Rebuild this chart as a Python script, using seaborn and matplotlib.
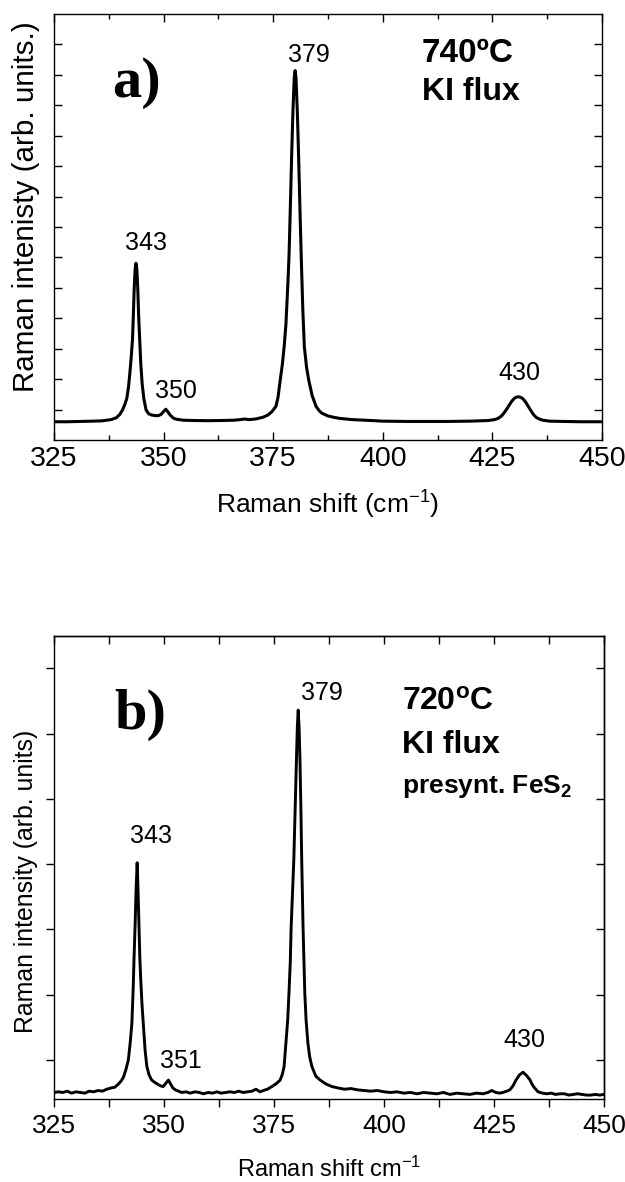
import matplotlib
matplotlib.use("Agg")
import matplotlib.pyplot as plt
from matplotlib.ticker import MultipleLocator
import seaborn as sns
import pandas as pd

# ---- spectrum (a): 740 C, KI flux ----
shift_a = [325, 328, 331, 334, 336, 338, 339.2, 340.0, 340.6, 341.1, 341.6,
           342.0, 342.3, 342.6, 342.9, 343.1, 343.3, 343.5, 343.7, 343.9, 344.1,
           344.3, 344.55, 344.8, 345.1, 345.5, 346.0, 346.6, 347.3, 348.2, 348.8,
           349.4, 349.9, 350.5, 351.0, 351.5, 352.2, 353.0, 354.5, 357, 360, 363,
           366, 367.5, 368.5, 369.5, 371, 372.7, 373.8, 374.7, 375.6, 376.1,
           376.6, 377.1, 377.5, 377.9, 378.3, 378.6, 378.9, 379.2, 379.5, 379.8,
           380.0, 380.2, 380.5, 380.8, 381.1, 381.4, 381.75, 382.1, 382.6, 383.1,
           383.9, 384.8, 385.5, 386.1, 387.5, 389, 390.2, 393, 396, 400, 405, 410,
           415, 420, 424, 425.5, 426.3, 427.0, 427.6, 428.2, 428.8, 429.4, 430.0,
           430.5, 431.0, 431.5, 432.0, 432.6, 433.2, 433.8, 434.4, 435.0, 435.7,
           436.5, 438, 441, 445, 450]
inten_a = [0.60, 0.60, 0.61, 0.62, 0.63, 0.67, 0.73, 0.84, 0.98, 1.15, 1.36,
           1.75, 2.19, 2.70, 3.29, 4.10, 5.00, 5.60, 5.81, 5.60, 5.00,
           4.10, 3.29, 2.50, 1.86, 1.35, 0.99, 0.86, 0.82, 0.80, 0.80,
           0.84, 0.92, 1.01, 0.92, 0.82, 0.72, 0.68, 0.65, 0.64, 0.635, 0.64,
           0.65, 0.67, 0.69, 0.67, 0.69, 0.75, 0.82, 0.93, 1.10, 1.40,
           1.97, 2.50, 3.07, 3.80, 5.00, 6.00, 7.60, 9.30, 10.80, 11.90,
           12.14, 11.90, 10.80, 9.30, 7.60, 6.00, 4.30, 3.07, 2.40, 1.97,
           1.45, 1.10, 0.96, 0.88, 0.79, 0.74, 0.71, 0.67, 0.65, 0.62, 0.61, 0.61,
           0.61, 0.62, 0.64, 0.67, 0.71, 0.78, 0.88, 1.00, 1.14, 1.27, 1.37,
           1.41, 1.42, 1.40, 1.35, 1.24, 1.10, 0.96, 0.83, 0.74, 0.69,
           0.65, 0.62, 0.61, 0.60, 0.60]

# ---- spectrum (b): 720 C, KI flux, presynthesized FeS2 ----
shift_b = [325, 326, 327, 328, 329, 330, 331, 332, 333, 334, 335, 336, 337,
           338, 338.8, 339.5, 340.2, 340.75, 341.3, 341.9, 342.3, 342.7, 343.0,
           343.2, 343.45, 343.65, 343.9, 344.1, 344.3, 344.5, 344.7, 345.0, 345.3,
           345.7, 346.1, 346.6, 347.2, 348.0, 348.7, 349.3, 349.8, 350.4, 351.0,
           351.5, 352.0, 352.6, 353.3, 354, 355, 356, 357, 358, 359, 360, 361,
           362, 363, 364, 365, 366, 367, 368, 369, 370, 370.9, 371.8, 372.6,
           373.5, 374.5, 375.6, 376.4, 376.9, 377.3, 377.7, 378.1, 378.4, 378.7,
           378.9, 379.2, 379.5, 379.8, 380.1, 380.3, 380.5, 380.7, 380.9, 381.1,
           381.3, 381.6, 381.8, 382.0, 382.3, 382.7, 383.1, 383.6, 384.5, 385.5,
           386.8, 388.2, 389.5, 391, 392.5, 394, 395.5, 397, 398.5, 400, 401.5,
           403, 404.5, 406, 407.5, 409, 410.5, 412, 413.5, 415, 416.5, 418,
           419.5, 421, 422.5, 423.6, 424.5, 425.4, 426.3, 427, 427.9, 428.6,
           429.3, 430.0, 430.8, 431.6, 432.4, 433.2, 433.7, 434.1, 434.6, 435.0,
           436, 437, 438, 439, 440, 441, 442, 443, 444, 445, 446, 447, 448, 449,
           450]
inten_b = [0.50, 0.51, 0.50, 0.52, 0.49, 0.51, 0.50, 0.49, 0.52, 0.51, 0.53,
           0.52, 0.55, 0.57, 0.58, 0.62, 0.67, 0.73, 0.84, 1.00, 1.25, 1.56, 2.10,
           2.58, 3.10, 3.60, 4.02, 3.60, 3.10, 2.58, 2.25, 1.85, 1.56,
           1.15, 0.90, 0.77, 0.69, 0.65, 0.62, 0.60, 0.59, 0.64, 0.69,
           0.63, 0.57, 0.54, 0.52, 0.50, 0.51, 0.49, 0.51, 0.50, 0.48, 0.50, 0.49,
           0.51, 0.49, 0.50, 0.51, 0.50, 0.52, 0.50, 0.51, 0.52, 0.55, 0.51, 0.53,
           0.55, 0.59, 0.64, 0.69, 0.78, 0.90, 1.26, 1.60, 2.02, 2.50,
           3.04, 3.55, 4.06, 4.80, 5.60, 6.10, 6.36, 6.10, 5.60, 4.90,
           4.06, 3.04, 2.50, 2.02, 1.60, 1.26, 1.05, 0.90, 0.75, 0.69,
           0.63, 0.59, 0.57, 0.55, 0.56, 0.54, 0.53, 0.52, 0.53, 0.51, 0.50,
           0.51, 0.49, 0.50, 0.48, 0.50, 0.49, 0.48, 0.50, 0.47, 0.49, 0.48,
           0.47, 0.49, 0.48, 0.50, 0.53, 0.50, 0.49, 0.50, 0.52, 0.54,
           0.60, 0.69, 0.77, 0.81, 0.76, 0.69, 0.62, 0.58, 0.54, 0.51,
           0.49, 0.48, 0.49, 0.47, 0.48, 0.48, 0.46, 0.47, 0.48, 0.47, 0.46, 0.46,
           0.47, 0.46, 0.47]

# peak annotations: (text, x, y)
peaks_a = [("343", 346.0, 6.25), ("350", 352.8, 1.38),
           ("379", 383.2, 12.43), ("430", 431.1, 1.97)]
peaks_b = [("343", 347.0, 4.32), ("351", 353.9, 0.88),
           ("379", 385.9, 6.51), ("430", 431.9, 1.20)]

x_ticks = [325, 350, 375, 400, 425, 450]

sns.set_style("ticks")
plt.rcParams["font.family"] = ["Liberation Sans", "DejaVu Sans"]
plt.rcParams["mathtext.fontset"] = "custom"
plt.rcParams["mathtext.rm"] = "Liberation Sans"
plt.rcParams["mathtext.it"] = "Liberation Sans:italic"
plt.rcParams["mathtext.bf"] = "Liberation Sans:bold"
for key in ("text.color", "axes.labelcolor", "xtick.color", "ytick.color",
            "axes.edgecolor"):
    plt.rcParams[key] = "black"
plt.rcParams["axes.linewidth"] = 1.0

W, H = 625, 1182
fig = plt.figure(figsize=(W / 100, H / 100), dpi=100)
ax1 = fig.add_axes([54 / W, (H - 440) / H, 548 / W, 426 / H])
ax2 = fig.add_axes([54 / W, (H - 1099) / H, 550 / W, 463.3 / H])

df_a = pd.DataFrame({"shift": shift_a, "intensity": inten_a})
df_b = pd.DataFrame({"shift": shift_b, "intensity": inten_b})

sns.lineplot(data=df_a, x="shift", y="intensity", ax=ax1, color="black",
             lw=2.2, estimator=None, sort=False)
sns.lineplot(data=df_b, x="shift", y="intensity", ax=ax2, color="black",
             lw=2.1, estimator=None, sort=False)

# ---- panel (a) axes ----
ax1.set_xlim(325, 450)
ax1.set_ylim(0, 14)
ax1.set_xticks(x_ticks)
ax1.xaxis.set_minor_locator(MultipleLocator(12.5))
ax1.set_yticks(range(1, 14))
ax1.set_yticklabels([])
ax1.tick_params(axis="x", which="major", direction="in", length=6, width=1,
                top=True, bottom=True, labelsize=20.5, pad=4)
ax1.tick_params(axis="x", which="minor", direction="in", length=3.5, width=1,
                top=True, bottom=True)
ax1.tick_params(axis="y", which="major", direction="in", length=6, width=1,
                left=True, right=True)
ax1.set_xlabel("Raman shift (cm$^{-1}$)", fontsize=19)
ax1.set_ylabel("Raman intenisty (arb. units.)", fontsize=21.3)
ax1.xaxis.set_label_coords(0.5, -0.115)
ax1.yaxis.set_label_coords(-0.026, 0.549)

for t, x, y in peaks_a:
    ax1.text(x, y, t, ha="center", va="baseline", fontsize=18)
ax1.text(338.2, 11.28, "a)", fontsize=42, fontweight="bold",
         family=["Liberation Serif", "DejaVu Serif"], va="baseline")
ax1.text(408.9, 12.43, "740ºC", fontsize=24, fontweight="bold", va="baseline")
ax1.text(408.9, 11.18, "KI flux", fontsize=23, fontweight="bold", va="baseline")

# ---- panel (b) axes ----
ax2.set_xlim(325, 450)
ax2.set_ylim(0.4, 7.5)
ax2.set_xticks(x_ticks)
ax2.xaxis.set_minor_locator(MultipleLocator(12.5))
ax2.set_yticks(range(1, 8))
ax2.set_yticklabels([])
ax2.tick_params(axis="x", which="both", direction="out", length=6, width=1,
                top=False, bottom=True, labelsize=19, pad=5)
ax2.tick_params(axis="y", which="major", direction="out", length=6, width=1,
                left=True, right=False)

top2 = ax2.secondary_xaxis("top")
top2.set_xticks(x_ticks)
top2.xaxis.set_minor_locator(MultipleLocator(12.5))
top2.tick_params(axis="x", which="both", direction="in", length=5.5, width=1,
                 labeltop=False)
top2.spines["top"].set_linewidth(1.0)
right2 = ax2.secondary_yaxis("right")
right2.set_yticks(range(1, 8))
right2.tick_params(axis="y", which="major", direction="in", length=5.5, width=1,
                   labelright=False)
right2.spines["right"].set_linewidth(1.0)

ax2.set_xlabel("Raman shift cm$^{-1}$", fontsize=17)
ax2.set_ylabel("Raman intensity (arb. units)", fontsize=17.9)
ax2.xaxis.set_label_coords(0.5, -0.125)
ax2.yaxis.set_label_coords(-0.029, 0.469)

for t, x, y in peaks_b:
    ax2.text(x, y, t, ha="center", va="baseline", fontsize=18)
ax2.text(338.6, 6.08, "b)", fontsize=42, fontweight="bold",
         family=["Liberation Serif", "DejaVu Serif"], va="baseline")
ax2.text(404.1, 6.36, r"720$^\mathbf{o}$C", fontsize=23, fontweight="bold",
         va="baseline")
ax2.text(404.1, 5.70, "KI flux", fontsize=23, fontweight="bold", va="baseline")
ax2.text(404.1, 5.09, r"presynt. FeS$_\mathbf{2}$", fontsize=19,
         fontweight="bold", va="baseline")

for ax in (ax1, ax2):
    for s in ax.spines.values():
        s.set_visible(True)
        s.set_linewidth(1.0)

fig.savefig("out.png", dpi=100)
